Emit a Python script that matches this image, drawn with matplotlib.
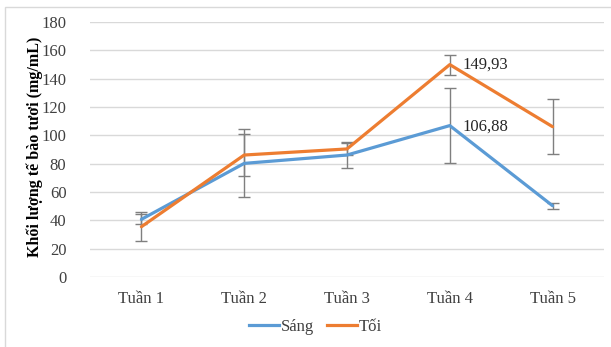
import matplotlib
matplotlib.use("Agg")
import matplotlib.pyplot as plt
from matplotlib.lines import Line2D
from matplotlib.patches import Rectangle

categories = ["Tuần 1", "Tuần 2", "Tuần 3", "Tuần 4", "Tuần 5"]
sang = [40.7, 80.2, 86.1, 106.88, 50.3]
sang_err = [3.5, 24.0, 9.0, 26.5, 2.0]
toi = [35.5, 86.1, 90.4, 149.93, 106.1]
toi_err = [10.4, 15.0, 4.5, 7.0, 19.5]
series_names = ["Sáng", "Tối"]
yticks = [0, 20, 40, 60, 80, 100, 120, 140, 160, 180]
ylabel = "Khối lượng tế bào tươi (mg/mL)"

plt.rcParams['font.family'] = ['Liberation Serif', 'DejaVu Serif']

fig = plt.figure(figsize=(6.11, 3.47), dpi=100)
ax = fig.add_axes([0.1473, 0.2017, 0.8412, 0.7349])

blue = "#5B9BD5"
orange = "#ED7D31"
errc = "#7F7F7F"
x = list(range(len(categories)))

ax.errorbar(x, sang, yerr=sang_err, fmt='none', ecolor=errc, elinewidth=1.0,
            capsize=4, capthick=1.0, zorder=2)
ax.errorbar(x, toi, yerr=toi_err, fmt='none', ecolor=errc, elinewidth=1.0,
            capsize=4, capthick=1.0, zorder=2)
ax.plot(x, sang, color=blue, lw=2.3, zorder=3, solid_capstyle='round')
ax.plot(x, toi, color=orange, lw=2.3, zorder=3, solid_capstyle='round')

ax.text(x[3] + 0.12, toi[3], "149,93", fontsize=12, va='center', ha='left', color='#262626')
ax.text(x[3] + 0.12, sang[3] - 1, "106,88", fontsize=12, va='center', ha='left', color='#262626')

ax.set_xlim(-0.5, len(categories) - 0.5)
ax.set_ylim(0, 180)
ax.set_yticks(yticks)
ax.set_yticklabels([str(v) for v in yticks], fontsize=12, color='#404040')
ax.set_xticks(x)
ax.set_xticklabels(categories, fontsize=12, color='#404040')
ax.tick_params(axis='both', length=0)
ax.tick_params(axis='y', pad=17)
ax.tick_params(axis='x', pad=10)
ax.grid(axis='y', color='#D9D9D9', lw=1.0)
ax.set_axisbelow(True)
for s in ax.spines.values():
    s.set_visible(False)

fig.text(0.057, 0.5755, ylabel, rotation=90, fontsize=11.5, fontweight='bold',
         ha='center', va='center', color='#000000')

handles = [Line2D([0], [0], color=blue, lw=2.3), Line2D([0], [0], color=orange, lw=2.3)]
fig.legend(handles, series_names, loc='center', bbox_to_anchor=(0.516, 0.058),
           ncol=2, frameon=False, fontsize=12, handlelength=1.8, handletextpad=0.1,
           columnspacing=0.8, labelcolor='#404040')

# outer chart frame (partly cropped)
fig.patches.append(Rectangle((5 / 611, -0.05), 1.2, 1 - 7 / 347 + 0.05,
                             transform=fig.transFigure, fill=False,
                             edgecolor='#D9D9D9', lw=1.0))

fig.savefig("out.png", dpi=100)
